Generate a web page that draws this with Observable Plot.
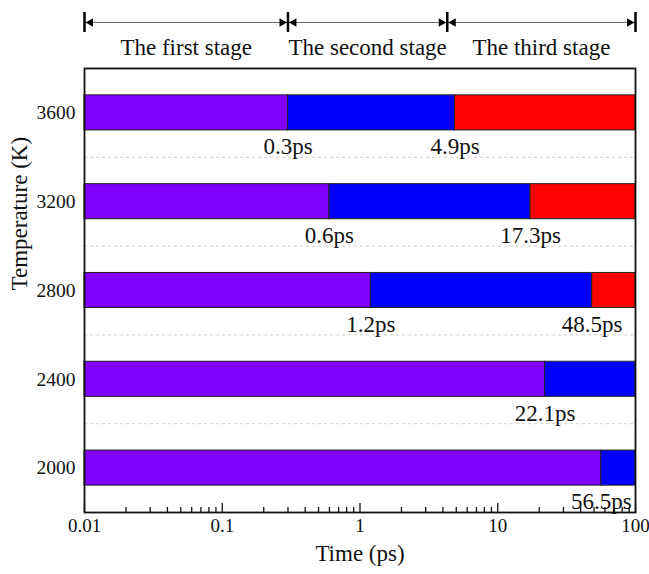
<!DOCTYPE html>
<html>
<head>
<meta charset="utf-8">
<script src="https://cdn.jsdelivr.net/npm/d3@7"></script>
<script src="https://cdn.jsdelivr.net/npm/@observablehq/plot@0.6"></script>
<style>
  html, body { margin: 0; padding: 0; background: #fff; }
  #chart svg { font-family: "Liberation Serif", "Times New Roman", serif; }
</style>
</head>
<body>
<div id="chart"></div>
<script>
// ---- data ----
const temps = [3600, 3200, 2800, 2400, 2000];
const firstEnd = [0.3, 0.6, 1.2, 22.1, 56.5];      // end of first stage (ps)
const secondEnd = [4.9, 17.3, 48.5, null, null];   // end of second stage (ps)
const stageNames = ["The first stage", "The second stage", "The third stage"];
const stageBounds = [0.01, 0.3, 4.3, 100];
const xTicks = [0.01, 0.1, 1, 10, 100];
const xTickLabels = ["0.01", "0.1", "1", "10", "100"];
const gridTemps = [2200, 2600, 3000, 3400];
const stageColors = ["#8000ff", "#0000ff", "#ff0000"];

// ---- derived tables ----
const xMin = 0.01, xMax = 100;
const segs = [];
const labels = [];
temps.forEach((T, i) => {
  segs.push({T, x1: xMin, x2: firstEnd[i], stage: 0});
  const e2 = secondEnd[i] == null ? xMax : secondEnd[i];
  segs.push({T, x1: firstEnd[i], x2: e2, stage: 1});
  if (secondEnd[i] != null) segs.push({T, x1: secondEnd[i], x2: xMax, stage: 2});
  labels.push({T, x: firstEnd[i], text: firstEnd[i] + "ps"});
  if (secondEnd[i] != null) labels.push({T, x: secondEnd[i], text: secondEnd[i] + "ps"});
});
const minorTicks = [];
for (let d = 0; d < xTicks.length - 1; d++)
  for (let k = 2; k <= 9; k++) minorTicks.push(xTicks[d] * k);

const yDomain = [1800, 3800];
const kPerPx = (yDomain[1] - yDomain[0]) / (574 - 68 - 62);
const annotY = yDomain[1] + 46 * kPerPx;
const stageLabelY = yDomain[1] + 21 * kPerPx;
const halfBar = 79;

const stages = stageNames.map((name, i) => ({
  name, a: stageBounds[i], b: stageBounds[i + 1],
  mid: Math.sqrt(stageBounds[i] * stageBounds[i + 1])
}));

const chart = Plot.plot({
  width: 649,
  height: 574,
  marginLeft: 84,
  marginRight: 14,
  marginTop: 68,
  marginBottom: 62,
  style: {fontFamily: "'Liberation Serif', 'Times New Roman', serif", background: "#fff", color: "#111"},
  x: {type: "log", domain: [xMin, xMax]},
  y: {domain: yDomain},
  color: {type: "ordinal", domain: [0, 1, 2], range: stageColors},
  marks: [
    Plot.ruleY(gridTemps, {stroke: "#ccc", strokeDasharray: "3,3", strokeWidth: 1}),
    Plot.rect(segs, {x1: "x1", x2: "x2", y1: d => d.T - halfBar, y2: d => d.T + halfBar,
      fill: "stage", stroke: "#222", strokeWidth: 1}),
    Plot.text(labels, {x: "x", y: "T", dy: 34, text: "text", fontSize: 23, fill: "#111"}),
    // minor & major ticks, pointing inward from bottom
    Plot.ruleX(minorTicks, {y1: yDomain[0], y2: yDomain[0] + 5 * kPerPx, stroke: "#111", strokeWidth: 1.3}),
    Plot.ruleX(xTicks, {y1: yDomain[0], y2: yDomain[0] + 9 * kPerPx, stroke: "#111", strokeWidth: 1.3}),
    Plot.axisX({ticks: xTicks, tickSize: 0, tickPadding: 6, fontSize: 19,
      tickFormat: d => xTickLabels[xTicks.indexOf(d)], label: null}),
    Plot.axisY({ticks: temps, tickSize: 0, tickPadding: 9, fontSize: 19.5,
      tickFormat: d => String(d), label: null}),
    Plot.text(["Time (ps)"], {frameAnchor: "bottom", dy: 48, fontSize: 23, fill: "#111"}),
    Plot.text(["Temperature (K)"], {frameAnchor: "left", dx: -65, rotate: -90, fontSize: 23, fill: "#111"}),
    Plot.frame({stroke: "#111", strokeWidth: 1.8}),
    // stage annotation above the frame
    Plot.ruleY([annotY], {x1: xMin, x2: xMax, stroke: "#666", strokeWidth: 1}),
    Plot.ruleX(stageBounds, {y1: annotY - 10 * kPerPx, y2: annotY + 10 * kPerPx, stroke: "#000", strokeWidth: 2.5}),
    Plot.dot(stages, {x: "a", y: annotY, dx: 6, symbol: "triangle", rotate: -90, r: 3.2, fill: "#000", stroke: "none"}),
    Plot.dot(stages, {x: "b", y: annotY, dx: -6, symbol: "triangle", rotate: 90, r: 3.2, fill: "#000", stroke: "none"}),
    Plot.text(stages, {x: "mid", y: stageLabelY, text: "name", fontSize: 23, fill: "#111"})
  ]
});
document.getElementById("chart").appendChild(chart);
</script>
</body>
</html>
